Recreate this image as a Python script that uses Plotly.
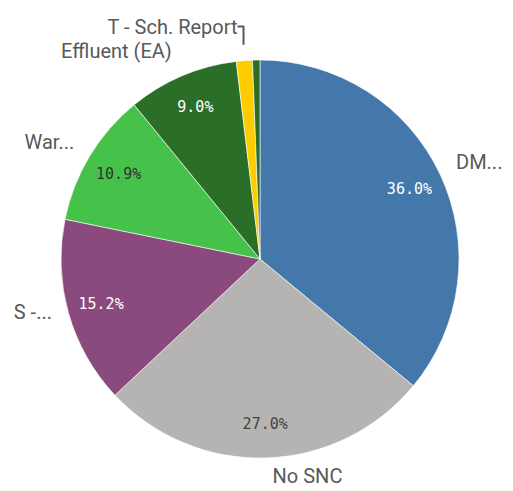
import plotly.graph_objects as go

labels = ["DM...", "No SNC", "S -...", "War...", "Effluent (EA)", "T - Sch. Report", "Other"]
values = [36.0, 27.0, 15.2, 10.9, 9.0, 1.3, 0.6]
colors = ["#4477aa", "#b5b4b3", "#8b4a7d", "#46c24b", "#2a6e28", "#ffcc00", "#2a6e28"]
pct_text_colors = ["white", "#444444", "white", "#333333", "white", "white", "white"]
show_pct = [True, True, True, True, True, False, False]
show_label = [True, True, True, True, True, True, False]

W, H = 513, 491
off = 8  # page body margin


def domain(left, top, right, bottom):
    return dict(x=[(left - off) / W, (right - off) / W],
                y=[1 - (bottom - off) / H, 1 - (top - off) / H])


pie_dom = domain(61, 60, 459, 458)
lbl_dom = domain(50, 44, 470, 464)

pct_tpl = ["%{percent:.1%}" if s else "" for s in show_pct]
lbl_tpl = ["%{label}" if s else "" for s in show_label]
clear = ["rgba(0,0,0,0)"] * len(values)

fig = go.Figure()
# coloured slices
fig.add_trace(go.Pie(
    labels=labels, values=values, sort=False, direction="clockwise", rotation=0,
    marker=dict(colors=colors, line=dict(color="white", width=0.6)),
    textinfo="none", domain=pie_dom, showlegend=False,
    hoverinfo="label+percent",
))
# percentage labels (placed in an outer ring)
fig.add_trace(go.Pie(
    labels=labels, values=values, sort=False, direction="clockwise", rotation=0,
    hole=0.66,
    marker=dict(colors=clear, line=dict(width=0)),
    texttemplate=pct_tpl, textposition="inside", insidetextorientation="horizontal",
    insidetextfont=dict(color=pct_text_colors, family="DejaVu Sans Mono", size=15),
    domain=pie_dom, showlegend=False, hoverinfo="skip",
))
# category labels outside
fig.add_trace(go.Pie(
    labels=labels, values=values, sort=False, direction="clockwise", rotation=0,
    marker=dict(colors=clear, line=dict(width=0)),
    texttemplate=lbl_tpl, textposition="outside",
    outsidetextfont=dict(color="#595959", family="Roboto", size=20),
    domain=lbl_dom, showlegend=False, hoverinfo="skip",
))
fig.update_layout(
    width=W, height=H, margin=dict(l=0, r=0, t=0, b=0),
    paper_bgcolor="white", plot_bgcolor="white",
)
fig.write_html("out.html")
